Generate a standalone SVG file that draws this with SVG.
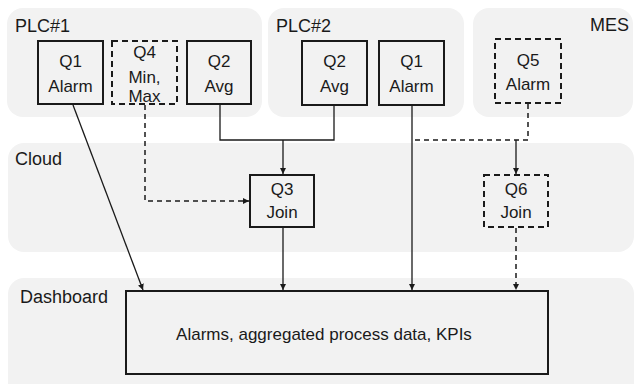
<svg xmlns="http://www.w3.org/2000/svg" width="636" height="384" viewBox="0 0 636 384">
<defs>
<style>
.panel{fill:#f2f2f2;stroke:none}
.box{fill:#f2f2f2;stroke:#1a1a1a;stroke-width:2}
.dbox{fill:#f2f2f2;stroke:#1a1a1a;stroke-width:2;stroke-dasharray:6 4}
.t{font-family:"Liberation Sans",Arial,sans-serif;font-size:17px;fill:#1a1a1a}
.lb{font-size:18px}
.c{text-anchor:middle}
.ln{fill:none;stroke:#1a1a1a;stroke-width:1.3}
.dl{fill:none;stroke:#1a1a1a;stroke-width:1.5;stroke-dasharray:5 4}
</style>
<marker id="ah" viewBox="0 0 10 10" refX="10" refY="5" markerWidth="6" markerHeight="6" markerUnits="userSpaceOnUse" orient="auto">
<path d="M0,0 L10,5 L0,10 z" fill="#1a1a1a"/>
</marker>
</defs>
<g id="panels">
<rect id="plc1" class="panel" x="7" y="8" width="255" height="109" rx="16"/>
<rect id="plc2" class="panel" x="268" y="8" width="196" height="109" rx="16"/>
<rect id="mes" class="panel" x="473" y="8" width="160" height="109" rx="16"/>
<rect id="cloud" class="panel" x="8" y="143" width="626" height="109" rx="16"/>
<rect id="dash" class="panel" x="8" y="278" width="626" height="120" rx="16"/>
<text class="t lb" x="15" y="32">PLC#1</text>
<text class="t lb" x="276" y="32">PLC#2</text>
<text class="t lb" x="629" y="31" text-anchor="end">MES</text>
<text class="t lb" x="15" y="165">Cloud</text>
<text class="t lb" x="20" y="303">Dashboard</text>
</g>
<g id="connectors">
<line class="ln" x1="73" y1="105" x2="143" y2="290" marker-end="url(#ah)"/>
<polyline class="dl" points="145,105 145,201 249,201" marker-end="url(#ah)"/>
<polyline class="ln" points="220,105 220,140 334,140 334,105"/>
<line class="ln" x1="283" y1="140" x2="283" y2="174" marker-end="url(#ah)"/>
<line class="ln" x1="283" y1="227" x2="283" y2="290" marker-end="url(#ah)"/>
<line class="ln" x1="412" y1="105" x2="412" y2="290" marker-end="url(#ah)"/>
<polyline class="dl" points="528,104 528,140 413,140"/>
<line class="ln" x1="516" y1="140" x2="516" y2="174" marker-end="url(#ah)"/>
<line class="dl" x1="516" y1="228" x2="516" y2="290" marker-end="url(#ah)"/>
</g>
<g id="q1a">
<rect class="box" x="38" y="41" width="65" height="63"/>
<text class="t c" x="70.5" y="67">Q1</text>
<text class="t c" x="70.5" y="92">Alarm</text>
</g>
<g id="q4">
<rect class="dbox" x="112" y="41" width="65" height="63"/>
<text class="t c" x="144.5" y="58">Q4</text>
<text class="t c" x="144.5" y="83">Min,</text>
<text class="t c" x="144.5" y="102">Max</text>
</g>
<g id="q2a">
<rect class="box" x="187" y="41" width="64" height="63"/>
<text class="t c" x="219" y="67">Q2</text>
<text class="t c" x="219" y="92">Avg</text>
</g>
<g id="q2b">
<rect class="box" x="302" y="41" width="65" height="64"/>
<text class="t c" x="334.5" y="67">Q2</text>
<text class="t c" x="334.5" y="92">Avg</text>
</g>
<g id="q1b">
<rect class="box" x="379" y="41" width="65" height="64"/>
<text class="t c" x="411.5" y="67">Q1</text>
<text class="t c" x="411.5" y="92">Alarm</text>
</g>
<g id="q5">
<rect class="dbox" x="495" y="39" width="66" height="64"/>
<text class="t c" x="528" y="66">Q5</text>
<text class="t c" x="528" y="90">Alarm</text>
</g>
<g id="q3">
<rect class="box" x="250" y="175" width="64" height="52"/>
<text class="t c" x="282" y="195">Q3</text>
<text class="t c" x="282" y="218">Join</text>
</g>
<g id="q6">
<rect class="dbox" x="484" y="175" width="64" height="52"/>
<text class="t c" x="516" y="195">Q6</text>
<text class="t c" x="516" y="218">Join</text>
</g>
<g id="dashboard">
<rect class="box" x="126" y="291" width="422" height="83"/>
<text class="t c" x="324" y="340">Alarms, aggregated process data, KPIs</text>
</g>
</svg>
